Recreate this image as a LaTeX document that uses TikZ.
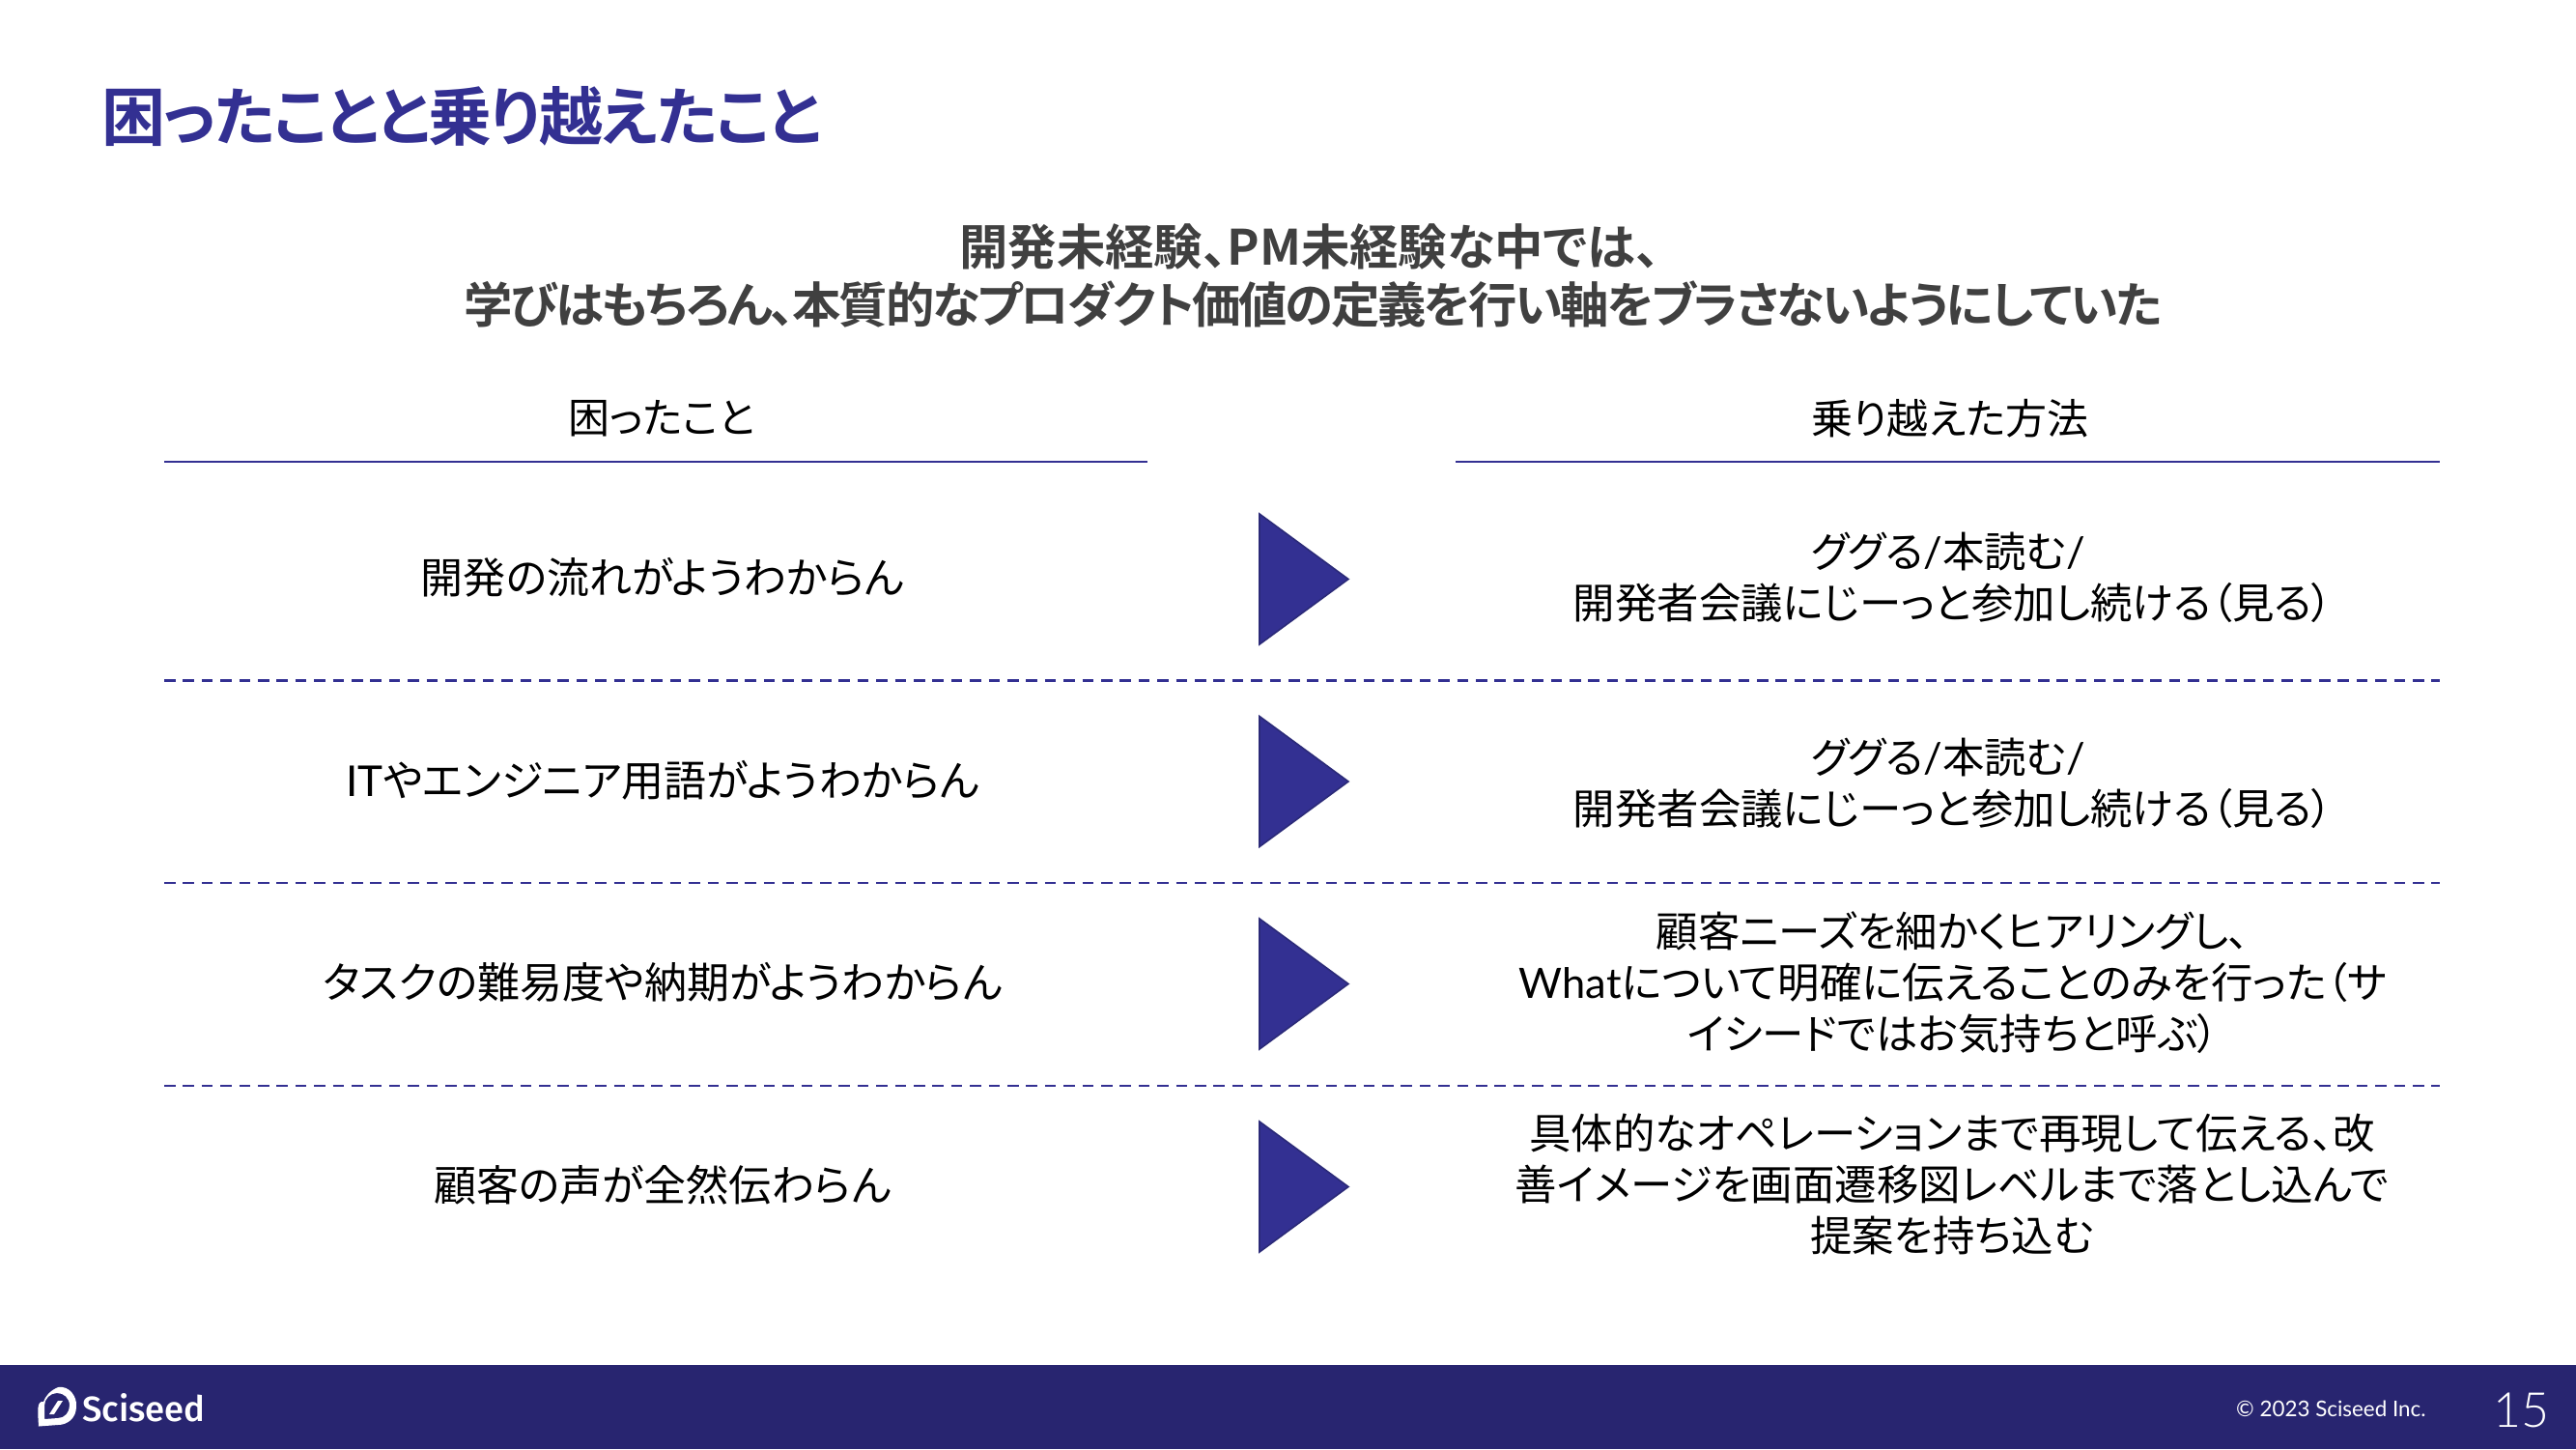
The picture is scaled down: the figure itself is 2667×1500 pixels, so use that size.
\documentclass[tikz,border=0pt]{standalone}
\usepackage{fontspec}
\setmainfont{Noto Sans CJK JP}[RawFeature=+palt]
\newfontfamily\boldjp{Noto Sans CJK JP Bold}[RawFeature=+palt]
\newfontfamily\latinf{Lato Light}
\newfontfamily\latinr{Lato}
\newfontfamily\logof{Fira Sans Medium}
\definecolor{navy}{HTML}{282570}
\definecolor{tri}{HTML}{333092}
\definecolor{triedge}{HTML}{2B2A78}
\definecolor{subtxt}{HTML}{404040}
\tikzset{
  x=0.5pt,y=-0.5pt,
  body/.style={inner sep=0pt,align=center,font=\fontsize{22}{26.5}\selectfont,text=black},
  bodyr/.style={inner sep=0pt,align=center,font=\fontsize{21.7}{26.5}\selectfont,text=black},
  head/.style={inner sep=0pt,align=center,font=\fontsize{21.5}{26.5}\selectfont,text=black},
  rule/.style={draw=tri,line width=1.25pt},
  dashrule/.style={draw=tri,line width=1.25pt,dash pattern=on 5.8pt off 3.9pt},
  arrowtri/.style={fill=tri,draw=triedge,line width=0.8pt,line join=miter},
}
\begin{document}
\begin{tikzpicture}
\useasboundingbox (0,0) rectangle (2667,1500);
\fill[white] (0,0) rectangle (2667,1500);
\fill[navy] (0,1413) rectangle (2667,1500);
\node[anchor=west,inner sep=0pt,text=tri,font=\fontsize{33}{38}\boldjp\addfontfeature{LetterSpace=-2.6}\selectfont] (title) at (105,120) {困ったことと乗り越えたこと};
\node[inner sep=0pt,align=center,text=subtxt,font=\fontsize{25.2}{30}\boldjp\selectfont] (sub) at (1360,285) {開発未経験、PM未経験な中では、\hspace*{4pt}\\{\addfontfeature{LetterSpace=-4.65}学びはもちろん、本質的なプロダクト価値の定義を行い軸をブラさないようにしていた}};
\node[head] (hl) at (685,433) {困ったこと};
\node[head] (hr) at (2019,433) {乗り越えた方法};
\draw[rule] (170,478) -- (1188,478);
\draw[rule] (1507,478) -- (2526,478);
\foreach \y in {704.5,914,1124}{\draw[dashrule] (170,\y) -- (2526,\y);}
\foreach \y in {599.5,809,1018.5,1228.5}{\draw[arrowtri] (1304,\y-67.5) -- (1396,\y) -- (1304,\y+67.5) -- cycle;}
\node[body] (l1) at (686,598) {開発の流れがようわからん};
\node[body] (l2) at (686,808) {{\latinr IT}やエンジニア用語がようわからん};
\node[body] (l3) at (686,1017) {タスクの難易度や納期がようわからん};
\node[body] (l4) at (686,1227) {顧客の声が全然伝わらん};
\node[bodyr] (r1) at (2022,598) {ググる{\latinr /}本読む{\latinr /}\hspace*{5pt}\\開発者会議にじーっと参加し続ける（見る）};
\node[bodyr] (r2) at (2022,811) {ググる{\latinr /}本読む{\latinr /}\hspace*{5pt}\\開発者会議にじーっと参加し続ける（見る）};
\node[bodyr] (r3) at (2022,1017) {顧客ニーズを細かくヒアリングし、\\{\latinr What}について明確に伝えることのみを行った（サ\\イシードではお気持ちと呼ぶ）};
\node[bodyr] (r4) at (2021,1226) {具体的なオペレーションまで再現して伝える、改\\善イメージを画面遷移図レベルまで落とし込んで\\提案を持ち込む};
% logo
\fill[white,even odd rule] (40,1476.5) .. controls (39,1460) and (38,1450) .. (45,1451) .. controls (50,1438) and (62,1436) .. (60,1436) .. controls (72,1434) and (80,1446) .. (79,1456) .. controls (79,1468) and (70,1475) .. (60,1475) -- (40,1476.5) -- cycle
 (46,1469) -- (60,1468) .. controls (67,1468) and (72,1462) .. (72,1455) .. controls (72,1447) and (66,1442) .. (59,1442) .. controls (52,1442) and (46,1448) .. (46,1455) -- cycle
 (51,1464) -- (56,1464) -- (65,1450) -- (60,1450) -- cycle;
\node[anchor=west,inner sep=0pt,text=white,font=\fontsize{18.2}{22}\logof\selectfont] (logo) at (85,1457) {Sciseed};
\node[anchor=east,inner sep=0pt,text=white,font=\fontsize{11.2}{14}\latinr\selectfont] (copy) at (2512,1458) {© 2023 Sciseed Inc.};
\node[anchor=east,inner sep=0pt,text=white,font=\fontsize{25}{30}\latinf\selectfont] (page) at (2640,1460) {15};
\end{tikzpicture}
\end{document}
